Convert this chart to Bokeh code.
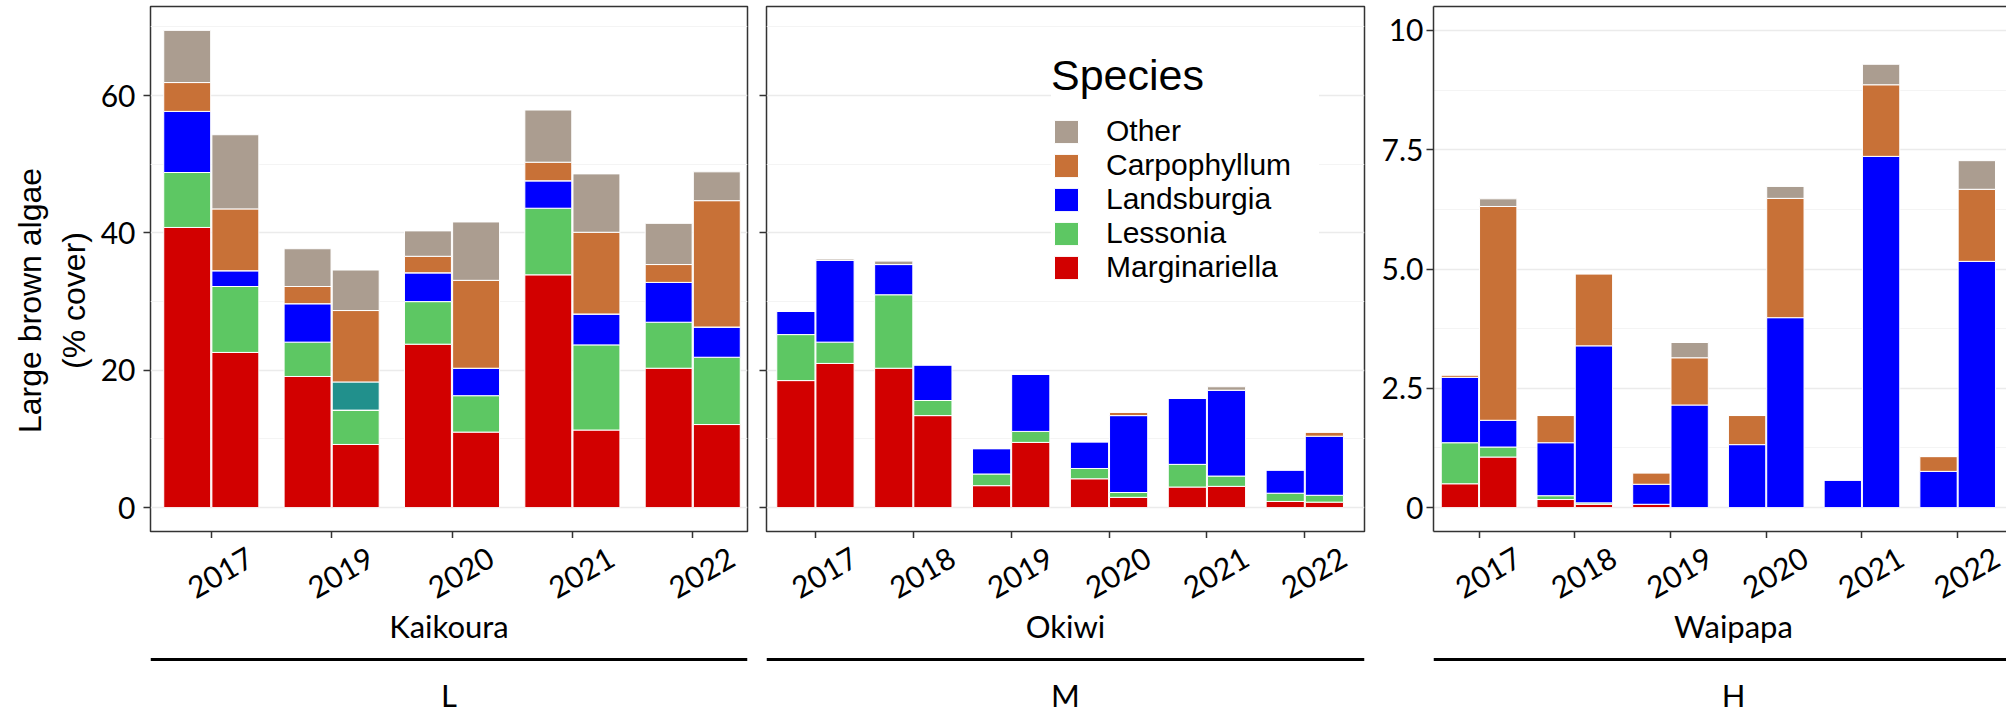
from bokeh.plotting import figure
from bokeh.layouts import row, column
from bokeh.models import (Range1d, FixedTicker, ColumnDataSource, Span, Legend,
                          LegendItem, LinearAxis)
from bokeh.core.properties import value
from bokeh.embed import file_html
from bokeh.resources import INLINE

# ---------------------------------------------------------------------------
# Data: large brown algae cover (%), two survey bars per year, listed as
# [year1 bar a, year1 bar b, year2 bar a, year2 bar b, ...]
# ---------------------------------------------------------------------------
STACK_ORDER = ["Marginariella", "Lessonia", "Landsburgia", "Unassigned", "Carpophyllum", "Other"]
LEGEND_ORDER = ["Other", "Carpophyllum", "Landsburgia", "Lessonia", "Marginariella"]
COLORS = {
    "Marginariella": "#D20000",
    "Lessonia": "#5DC763",
    "Landsburgia": "#0000FF",
    "Unassigned": "#21908C",
    "Carpophyllum": "#C87137",
    "Other": "#AB9D90",
}

KAI_YEARS = ["2017", "2019", "2020", "2021", "2022"]
KAI_MARGINARIELLA = [40.8, 22.6, 19.1, 9.2, 23.8, 11.0, 33.9, 11.3, 20.3, 12.1]
KAI_LESSONIA = [8.0, 9.6, 5.0, 5.0, 6.2, 5.3, 9.7, 12.4, 6.7, 9.8]
KAI_LANDSBURGIA = [8.9, 2.3, 5.6, 0.0, 4.2, 4.0, 4.0, 4.5, 5.8, 4.4]
KAI_UNASSIGNED = [0.0, 0.0, 0.0, 4.1, 0.0, 0.0, 0.0, 0.0, 0.0, 0.0]
KAI_CARPOPHYLLUM = [4.2, 9.0, 2.5, 10.4, 2.4, 12.8, 2.7, 11.9, 2.6, 18.4]
KAI_OTHER = [7.6, 10.8, 5.5, 5.9, 3.7, 8.5, 7.6, 8.5, 6.0, 4.2]

OKI_YEARS = ["2017", "2018", "2019", "2020", "2021", "2022"]
OKI_MARGINARIELLA = [18.5, 21.0, 20.3, 13.4, 3.2, 9.5, 4.2, 1.5, 3.0, 3.1, 0.9, 0.8]
OKI_LESSONIA = [6.7, 3.1, 10.7, 2.2, 1.7, 1.6, 1.5, 0.7, 3.3, 1.5, 1.2, 1.0]
OKI_LANDSBURGIA = [3.4, 11.9, 4.4, 5.2, 3.7, 8.3, 3.9, 11.2, 9.6, 12.5, 3.4, 8.6]
OKI_CARPOPHYLLUM = [0.0, 0.0, 0.0, 0.0, 0.0, 0.0, 0.0, 0.5, 0.0, 0.0, 0.0, 0.6]
OKI_OTHER = [0.0, 0.2, 0.5, 0.0, 0.0, 0.0, 0.0, 0.0, 0.0, 0.5, 0.0, 0.0]

WAI_YEARS = ["2017", "2018", "2019", "2020", "2021", "2022"]
WAI_MARGINARIELLA = [0.50, 1.06, 0.17, 0.07, 0.07, 0.0, 0.0, 0.0, 0.0, 0.0, 0.0, 0.0]
WAI_LESSONIA = [0.86, 0.21, 0.08, 0.03, 0.0, 0.0, 0.0, 0.0, 0.0, 0.0, 0.0, 0.0]
WAI_LANDSBURGIA = [1.37, 0.56, 1.11, 3.29, 0.42, 2.15, 1.32, 3.98, 0.58, 7.36, 0.76, 5.16]
WAI_CARPOPHYLLUM = [0.05, 4.48, 0.57, 1.51, 0.24, 0.99, 0.61, 2.50, 0.0, 1.50, 0.31, 1.51]
WAI_OTHER = [0.0, 0.16, 0.0, 0.0, 0.0, 0.32, 0.0, 0.25, 0.0, 0.43, 0.0, 0.60]

SITES = ["Kaikoura", "Okiwi", "Waipapa"]
EXPOSURE = ["L", "M", "H"]
Y_TITLE = ["Large brown algae", "(% cover)"]

# ---------------------------------------------------------------------------
# Layout and styling
# ---------------------------------------------------------------------------
PANEL_H = 538            # 6 px top border, 525 px frame, 7 px for the ticks
STRIP_H = 175            # rotated year labels, site name, rule and exposure
TITLE_W = 95
BAR_SHIFT = 0.2          # offset of each bar from the year tick
BAR_WIDTH = 0.39
FRAME_COLOR = "#333333"
TICK_FONT = "Lato"
TEXT_FONT = "Liberation Sans"


def stacked_source(years, series):
    xs = [i + off for i in range(len(years)) for off in (-BAR_SHIFT, BAR_SHIFT)]
    data = {"x": xs}
    data.update(series)
    return ColumnDataSource(data)


def make_panel(width, border_left, border_right, x_range, y_range, outline=True):
    p = figure(width=width, height=PANEL_H, x_range=x_range, y_range=y_range,
               output_backend="svg", toolbar_location=None,
               min_border_left=border_left, min_border_right=border_right,
               min_border_top=6, min_border_bottom=7)
    p.background_fill_color = "white"
    p.border_fill_color = "white"
    p.outline_line_color = FRAME_COLOR if outline else None
    p.outline_line_width = 1.5
    p.xgrid.grid_line_color = None
    p.ygrid.grid_line_color = "#EBEBEB"
    p.ygrid.grid_line_width = 1.5
    p.ygrid.minor_grid_line_color = "#F4F4F4"
    p.ygrid.minor_grid_line_width = 1
    for ax in p.axis:
        ax.major_tick_out = 7
        ax.major_tick_in = 0
        ax.minor_tick_out = 0
        ax.minor_tick_in = 0
        ax.major_tick_line_color = FRAME_COLOR
        ax.major_tick_line_width = 1.5
        ax.axis_line_color = None if outline else FRAME_COLOR
        ax.axis_line_width = 1.5
        ax.major_label_text_font = TICK_FONT
        ax.major_label_text_font_size = "30px"
        ax.major_label_text_color = "black"
    # year names are written in the strip underneath
    p.xaxis.major_label_text_color = None
    p.xaxis.major_label_text_font_size = "1px"
    p.xaxis.major_label_standoff = 0
    return p


def make_strip(width, border_left, border_right, x_range):
    s = figure(width=width, height=STRIP_H, x_range=x_range, y_range=Range1d(0, STRIP_H),
               output_backend="svg", toolbar_location=None,
               x_axis_location=None, y_axis_location=None,
               min_border_left=border_left, min_border_right=border_right,
               min_border_top=0, min_border_bottom=0)
    s.outline_line_color = None
    s.grid.visible = False
    s.background_fill_color = "white"
    s.border_fill_color = "white"
    return s


def draw_bars(p, years, series):
    src = stacked_source(years, series)
    names = [s for s in STACK_ORDER if s in series]
    renderers = p.vbar_stack(names, x="x", width=BAR_WIDTH, source=src,
                             color=[COLORS[n] for n in names],
                             line_color="white", line_width=1)
    p.xaxis.ticker = FixedTicker(ticks=list(range(len(years))))
    return dict(zip(names, renderers))


def fill_strip(s, years, site, exposure, centre_frac):
    x0, x1 = s.x_range.start, s.x_range.end
    xc = x0 + centre_frac * (x1 - x0)
    s.text(x=list(range(len(years))), y=[141] * len(years), text=years,
           angle=30, angle_units="deg", x_offset=9,
           text_align="center", text_baseline="middle",
           text_font=value(TICK_FONT), text_font_size=value("30px"), text_color="black")
    s.text(x=[xc], y=[88], text=[site], text_align="center", text_baseline="alphabetic",
           text_font=value(TICK_FONT), text_font_size=value("31px"), text_color="black")
    s.add_layout(Span(location=54, dimension="width", line_color="black", line_width=3))
    s.text(x=[xc], y=[19], text=[exposure], text_align="center", text_baseline="alphabetic",
           text_font=value(TICK_FONT), text_font_size=value("31px"), text_color="black")


# shared y scale for Kaikoura and Okiwi (5 % padding either side of the data)
totals = [sum(v) for v in zip(KAI_MARGINARIELLA, KAI_LESSONIA, KAI_LANDSBURGIA,
                              KAI_UNASSIGNED, KAI_CARPOPHYLLUM, KAI_OTHER)]
totals += [sum(v) for v in zip(OKI_MARGINARIELLA, OKI_LESSONIA, OKI_LANDSBURGIA,
                               OKI_CARPOPHYLLUM, OKI_OTHER)]
ymax = max(totals)
shared_y = Range1d(-0.05 * ymax, 1.05 * ymax)

# --- y-axis title ---------------------------------------------------------
yt = figure(width=TITLE_W, height=PANEL_H + STRIP_H, x_range=Range1d(0, TITLE_W),
            y_range=Range1d(0, PANEL_H + STRIP_H), output_backend="svg",
            toolbar_location=None, x_axis_location=None, y_axis_location=None,
            min_border=0)
yt.outline_line_color = None
yt.grid.visible = False
yt.text(x=[29, 73], y=[413, 413], text=Y_TITLE, angle=90, angle_units="deg",
        text_align="center", text_baseline="alphabetic",
        text_font=value(TEXT_FONT), text_font_size=value("32px"), text_color="black")

# --- Kaikoura -------------------------------------------------------------
x1 = Range1d(-0.505, 4.455)
p1 = make_panel(662, 55, 10, x1, shared_y)
draw_bars(p1, KAI_YEARS, {
    "Marginariella": KAI_MARGINARIELLA, "Lessonia": KAI_LESSONIA,
    "Landsburgia": KAI_LANDSBURGIA, "Unassigned": KAI_UNASSIGNED,
    "Carpophyllum": KAI_CARPOPHYLLUM, "Other": KAI_OTHER})
p1.yaxis.ticker = FixedTicker(ticks=[0, 20, 40, 60], minor_ticks=[10, 30, 50, 70])
p1.yaxis.major_label_standoff = 8
s1 = make_strip(662, 55, 10, x1)
fill_strip(s1, KAI_YEARS, SITES[0], EXPOSURE[0], 0.5)

# --- Okiwi ----------------------------------------------------------------
x2 = Range1d(-0.5, 5.61)
p2 = make_panel(616, 9, 9, x2, shared_y)
oki = draw_bars(p2, OKI_YEARS, {
    "Marginariella": OKI_MARGINARIELLA, "Lessonia": OKI_LESSONIA,
    "Landsburgia": OKI_LANDSBURGIA, "Carpophyllum": OKI_CARPOPHYLLUM,
    "Other": OKI_OTHER})
p2.yaxis.ticker = FixedTicker(ticks=[0, 20, 40, 60], minor_ticks=[10, 30, 50, 70])
p2.yaxis.major_label_text_color = None
p2.yaxis.major_label_text_font_size = "1px"
p2.yaxis.major_label_standoff = 0
s2 = make_strip(616, 9, 9, x2)
fill_strip(s2, OKI_YEARS, SITES[1], EXPOSURE[1], 0.5)

legend = Legend(items=[LegendItem(label=name, renderers=[oki[name]]) for name in LEGEND_ORDER],
                location="top_right", margin=45, padding=27,
                title="Species", title_text_font=TEXT_FONT, title_text_font_size="43px",
                title_text_font_style="normal", title_text_color="black", title_standoff=14,
                label_text_font=TEXT_FONT, label_text_font_size="30px", label_text_color="black",
                label_width=213,
                glyph_width=30, glyph_height=29, label_standoff=25, spacing=0,
                background_fill_color="white", background_fill_alpha=1.0,
                border_line_color=None)
p2.add_layout(legend)

# --- Waipapa --------------------------------------------------------------
x3 = Range1d(-0.476, 5.51)
p3 = make_panel(633, 60, 0, x3, Range1d(-0.5, 10.5), outline=False)
draw_bars(p3, WAI_YEARS, {
    "Marginariella": WAI_MARGINARIELLA, "Lessonia": WAI_LESSONIA,
    "Landsburgia": WAI_LANDSBURGIA, "Carpophyllum": WAI_CARPOPHYLLUM,
    "Other": WAI_OTHER})
p3.yaxis.ticker = FixedTicker(ticks=[0, 2.5, 5, 7.5, 10], minor_ticks=[1.25, 3.75, 6.25, 8.75])
p3.yaxis.major_label_overrides = {0: "0", 2.5: "2.5", 5: "5.0", 7.5: "7.5", 10: "10"}
p3.yaxis.major_label_standoff = 3
top_edge = LinearAxis(ticker=FixedTicker(ticks=[]), axis_line_color=FRAME_COLOR,
                      axis_line_width=1.5, major_tick_out=0, major_tick_in=0,
                      minor_tick_out=0, minor_tick_in=0, major_label_standoff=0,
                      major_label_text_font_size="1px", major_label_text_color=None)
p3.add_layout(top_edge, "above")
s3 = make_strip(633, 60, 0, x3)
# the Waipapa frame runs past the page edge; centre its captions on the full frame
fill_strip(s3, WAI_YEARS, SITES[2], EXPOSURE[2], 300 / 573)

layout = row(yt, column(p1, s1, spacing=0), column(p2, s2, spacing=0),
             column(p3, s3, spacing=0), spacing=0)
open("out.html", "w").write(file_html(layout, INLINE))
